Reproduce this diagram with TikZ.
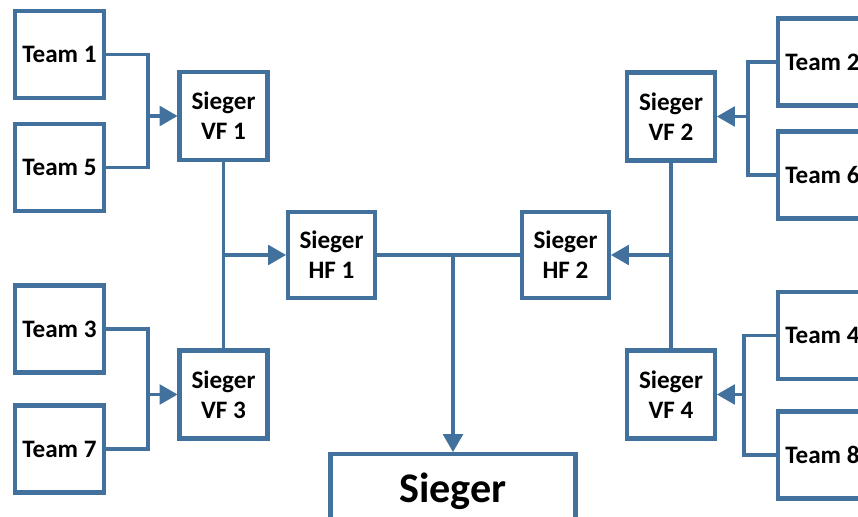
\documentclass[tikz,border=0pt]{standalone}
\usepackage{fontspec}
\setmainfont{Carlito}
\usepackage{tikz}
\usetikzlibrary{arrows}
\definecolor{bracketblue}{RGB}{65,113,156}
\tikzstyle{team}=[rectangle,draw=bracketblue,line width=2.3pt,fill=white,minimum width=1.78cm,minimum height=1.74cm,inner sep=0mm,font=\fontsize{14.3}{17}\selectfont\bfseries,align=center]
\tikzstyle{round}=[team,minimum width=1.76cm,minimum height=1.76cm]
\tikzstyle{final}=[team,minimum width=4.9cm,minimum height=1.5cm,anchor=north,font=\fontsize{24}{28}\selectfont\bfseries]
\tikzstyle{link}=[draw=bracketblue,line width=1.8pt]
\tikzstyle{arrow}=[link,->,>=triangle 60]

\begin{document}
\begin{tikzpicture}
      \useasboundingbox (0,0) rectangle (17.16,-10.34);
      \clip (0,0) rectangle (17.16,-10.34);
      % teams
      \node[team] at (1.19,-1.09) (t1) {Team 1};
      \node[team] at (1.19,-3.35) (t5) {Team 5};
      \node[team] at (1.19,-6.58) (t3) {Team 3};
      \node[team] at (1.19,-8.98) (t7) {Team 7};
      \node[team] at (16.45,-1.24) (t2) {Team 2};
      \node[team] at (16.45,-3.50) (t6) {Team 6};
      \node[team] at (16.45,-6.71) (t4) {Team 4};
      \node[team] at (16.45,-9.10) (t8) {Team 8};
      % rounds
      \node[round] at (4.47,-2.32) (vf1) {Sieger\\VF 1};
      \node[round] at (4.47,-7.89) (vf3) {Sieger\\VF 3};
      \node[round] at (13.42,-2.33) (vf2) {Sieger\\VF 2};
      \node[round] at (13.42,-7.89) (vf4) {Sieger\\VF 4};
      \node[round,minimum width=1.74cm,minimum height=1.72cm] at (6.63,-5.10) (hf1) {Sieger\\HF 1};
      \node[round,minimum width=1.74cm,minimum height=1.72cm] at (11.31,-5.10) (hf2) {Sieger\\HF 2};
      \node[final] at (9.06,-9.04) (win) {Sieger};
      % junctions
      \coordinate (j1) at (2.96,-2.32);
      \coordinate (j3) at (2.96,-7.89);
      \coordinate (j2) at (14.96,-2.33);
      \coordinate (j4) at (14.88,-7.89);
      % connectors
      \draw[link] (t1) -| (j1) |- (t5);
      \draw[link] (t3) -| (j3) |- (t7);
      \draw[link] (t2) -| (j2) |- (t6);
      \draw[link] (t4) -| (j4) |- (t8);
      \draw[arrow] (j1) -- (vf1);
      \draw[arrow] (j3) -- (vf3);
      \draw[arrow] (j2) -- (vf2);
      \draw[arrow] (j4) -- (vf4);
      \draw[link] (vf1) -- (vf3);
      \draw[link] (vf2) -- (vf4);
      \draw[arrow] (vf1 |- hf1) -- (hf1);
      \draw[arrow] (vf2 |- hf2) -- (hf2);
      \draw[link] (hf1) -- (hf2);
      \draw[arrow] (hf1 -| win) -- (win);
\end{tikzpicture}
\end{document}
